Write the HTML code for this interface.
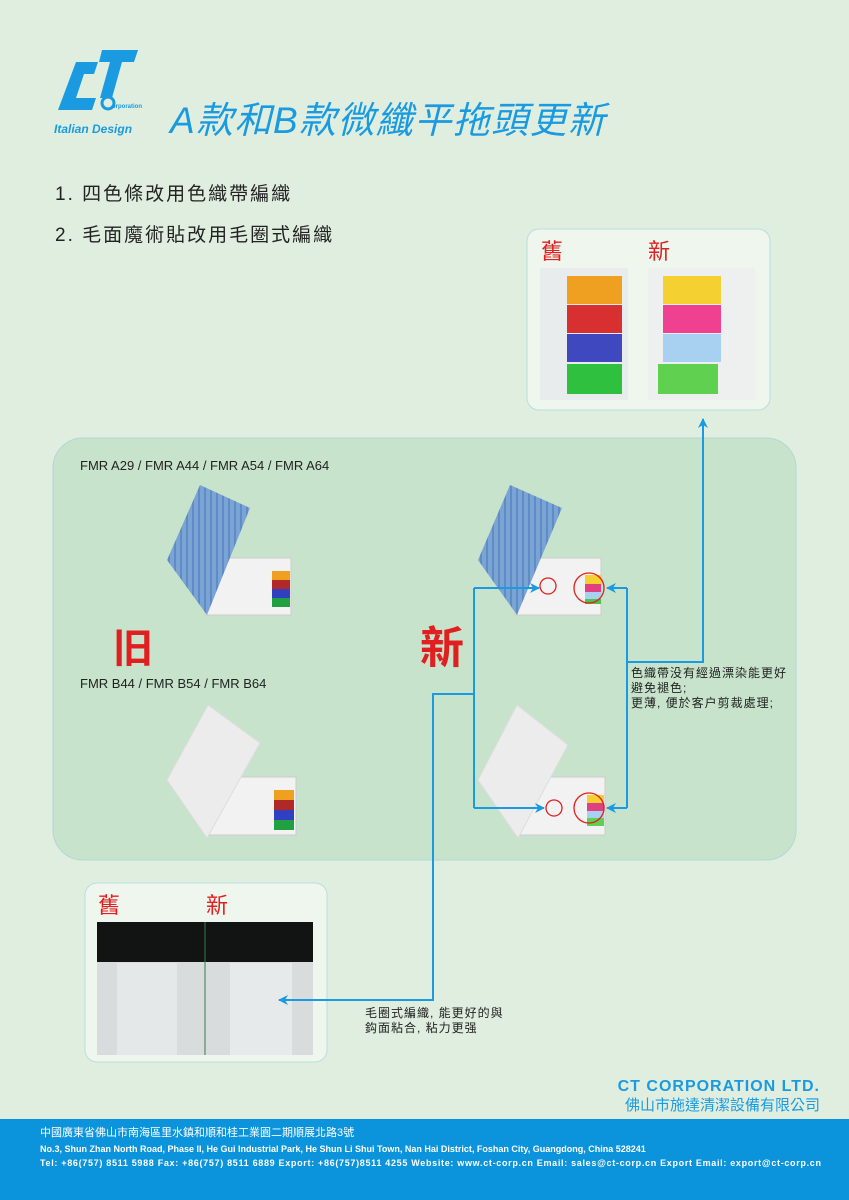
<!DOCTYPE html>
<html><head><meta charset="utf-8"><style>
body{margin:0;width:849px;height:1200px;background:#e0eee0;overflow:hidden;font-family:"Liberation Sans","Noto Sans CJK TC",sans-serif}
</style></head><body>
<svg width="849" height="1200" xmlns="http://www.w3.org/2000/svg" style="position:absolute;left:0;top:0;font-family:'Liberation Sans','Noto Sans CJK TC',sans-serif">
<defs>
<marker id="ar" markerWidth="10" markerHeight="10" refX="9" refY="5" orient="auto" markerUnits="userSpaceOnUse"><path d="M0,0 L10,5 L0,10 L3,5z" fill="#1a9ae0"/></marker>
<pattern id="bl" width="6" height="6" patternUnits="userSpaceOnUse"><rect width="6" height="6" fill="#7aa4d4"/><rect width="2" height="6" fill="#5f8cc6"/></pattern>
</defs>
<!-- logo -->
<path d="M76,62 L98,62 L94,74 L84,74 L76,98 L96,98 L92,110 L58,110 Z" fill="#1a9ae0"/>
<path d="M102,50 L138,50 L134,62 L122,62 L112,98 L100,98 L110,62 L99,62 Z" fill="#1a9ae0"/>
<circle cx="108" cy="103" r="6" fill="none" stroke="#1a9ae0" stroke-width="3"/>
<text x="112" y="108" font-size="6" fill="#1a9ae0" font-weight="bold">orporation</text>
<text x="54" y="133" font-size="12" font-weight="bold" font-style="italic" fill="#1a9ae0">Italian Design</text>
<text x="170" y="133" font-size="37" font-style="italic" fill="#1a9ae0" textLength="435">A款和B款微纖平拖頭更新</text>
<text x="55" y="200" font-size="19" fill="#222" letter-spacing="2">1. 四色條改用色織帶編織</text>
<text x="55" y="241" font-size="19" fill="#222" letter-spacing="2">2. 毛面魔術貼改用毛圈式編織</text>
<!-- top right box -->
<rect x="527" y="229" width="243" height="181" rx="12" fill="#eef6ee" stroke="#b8dde0"/>
<text x="541" y="259" font-size="22" fill="#e02020">舊</text>
<text x="648" y="259" font-size="22" fill="#e02020">新</text>
<rect x="540" y="268" width="88" height="132" fill="#e8ecec"/>
<rect x="567" y="276" width="55" height="28" fill="#f0a020"/><rect x="567" y="305" width="55" height="28" fill="#d83030"/><rect x="567" y="334" width="55" height="28" fill="#4048c0"/><rect x="567" y="364" width="55" height="30" fill="#30c040"/>
<rect x="648" y="268" width="107" height="132" fill="#eef0f0"/>
<rect x="663" y="276" width="58" height="28" fill="#f4d030"/><rect x="663" y="305" width="58" height="28" fill="#f04090"/><rect x="663" y="334" width="58" height="28" fill="#a8d0f0"/><rect x="658" y="364" width="60" height="30" fill="#60d050"/>
<!-- panel -->
<rect x="53" y="438" width="743" height="422" rx="30" fill="#c7e3cb" stroke="#b0d8d8"/>
<text x="80" y="470" font-size="13" fill="#222">FMR A29 / FMR A44 / FMR A54 / FMR A64</text>
<text x="80" y="688" font-size="13" fill="#222">FMR B44 / FMR B54 / FMR B64</text>
<!-- mop A old -->
<rect x="205" y="558" width="86" height="57" fill="#f2f2f2" stroke="#ccc"/>
<polygon points="200,485 250,508 207,615 167,560" fill="url(#bl)"/>
<rect x="272" y="571" width="18" height="9" fill="#f0a020"/><rect x="272" y="580" width="18" height="9" fill="#b02828"/><rect x="272" y="589" width="18" height="9" fill="#3040c0"/><rect x="272" y="598" width="18" height="9" fill="#20a040"/>
<!-- mop A new -->
<rect x="515" y="558" width="86" height="57" fill="#f2f2f2" stroke="#ccc"/>
<polygon points="510,485 562,508 517,615 478,560" fill="url(#bl)"/>
<rect x="585" y="575" width="16" height="9" fill="#f4d030"/><rect x="585" y="584" width="16" height="8" fill="#e04080"/><rect x="585" y="592" width="16" height="7" fill="#a8d0f0"/><rect x="585" y="599" width="16" height="5" fill="#50c050"/>
<!-- mop B old -->
<rect x="205" y="777" width="91" height="58" fill="#f2f2f2" stroke="#ccc"/>
<polygon points="208,705 260,743 207,838 167,780" fill="#ececec" stroke="#ddd"/>
<rect x="274" y="790" width="20" height="10" fill="#f0a020"/><rect x="274" y="800" width="20" height="10" fill="#b02828"/><rect x="274" y="810" width="20" height="10" fill="#3040c0"/><rect x="274" y="820" width="20" height="10" fill="#20a040"/>
<!-- mop B new -->
<rect x="515" y="777" width="90" height="58" fill="#f2f2f2" stroke="#ccc"/>
<polygon points="517,705 568,745 518,838 478,780" fill="#ececec" stroke="#ddd"/>
<rect x="587" y="795" width="17" height="8" fill="#f4d030"/><rect x="587" y="803" width="17" height="8" fill="#e04080"/><rect x="587" y="811" width="17" height="7" fill="#a8d0f0"/><rect x="587" y="818" width="17" height="8" fill="#60d050"/>
<text x="113" y="662" font-size="40" font-weight="bold" fill="#e02020">旧</text>
<text x="420" y="663" font-size="44" font-weight="bold" fill="#e02020">新</text>
<!-- circles -->
<g fill="none" stroke="#e02020" stroke-width="1.3">
<circle cx="548" cy="586" r="8"/><circle cx="589" cy="588" r="15"/><circle cx="554" cy="808" r="8"/><circle cx="589" cy="808" r="15"/></g>
<!-- bottom-left box -->
<rect x="85" y="883" width="242" height="179" rx="12" fill="#eef6ee" stroke="#b8dde0"/>
<text x="98" y="913" font-size="22" fill="#e02020">舊</text>
<text x="206" y="913" font-size="22" fill="#e02020">新</text>
<rect x="97" y="922" width="216" height="133" fill="#d8dcdc"/>
<rect x="97" y="922" width="216" height="40" fill="#121414"/>
<rect x="117" y="963" width="60" height="92" fill="#e4e8e8"/><rect x="230" y="963" width="62" height="92" fill="#e6eaea"/>
<line x1="205" y1="922" x2="205" y2="1055" stroke="#3a7a4a"/>
<!-- connectors -->
<g fill="none" stroke="#1a9ae0" stroke-width="2">
<path d="M627,662 L703,662 L703,419" marker-end="url(#ar)"/>
<path d="M627,588 L627,808"/>
<path d="M627,588 L607,588" marker-end="url(#ar)"/>
<path d="M627,808 L607,808" marker-end="url(#ar)"/>
<path d="M474,588 L474,808"/>
<path d="M474,588 L539,588" marker-end="url(#ar)"/>
<path d="M474,808 L544,808" marker-end="url(#ar)"/>
<path d="M474,694 L433,694 L433,1000 L279,1000" marker-end="url(#ar)"/>
</g>
<g font-size="12" fill="#222" letter-spacing="1">
<text x="631" y="677">色織帶没有經過漂染能更好</text>
<text x="631" y="692">避免褪色;</text>
<text x="631" y="707">更薄, 便於客户剪裁處理;</text>
<text x="365" y="1017">毛圈式編織, 能更好的與</text>
<text x="365" y="1032">鈎面粘合, 粘力更强</text>
</g>
<!-- company -->
<text x="820" y="1091" font-size="16" font-weight="bold" fill="#1a9ae0" text-anchor="end" letter-spacing="1">CT CORPORATION LTD.</text>
<text x="820" y="1110" font-size="15" fill="#1a9ae0" text-anchor="end">佛山市施達清潔設備有限公司</text>
<rect x="0" y="1119" width="849" height="81" fill="#0b93dc"/>
<text x="40" y="1136" font-size="11" fill="#fff">中國廣東省佛山市南海區里水鎮和順和桂工業園二期順展北路3號</text>
<text x="40" y="1152" font-size="9" font-weight="bold" fill="#fff">No.3, Shun Zhan North Road, Phase II, He Gui Industrial Park, He Shun Li Shui Town, Nan Hai District,  Foshan City, Guangdong, China 528241</text>
<text x="40" y="1166" font-size="9" font-weight="bold" fill="#fff" textLength="781">Tel: +86(757) 8511 5988    Fax: +86(757) 8511 6889    Export: +86(757)8511 4255    Website: www.ct-corp.cn    Email: sales@ct-corp.cn    Export Email: export@ct-corp.cn</text>
</svg>
</body></html>
